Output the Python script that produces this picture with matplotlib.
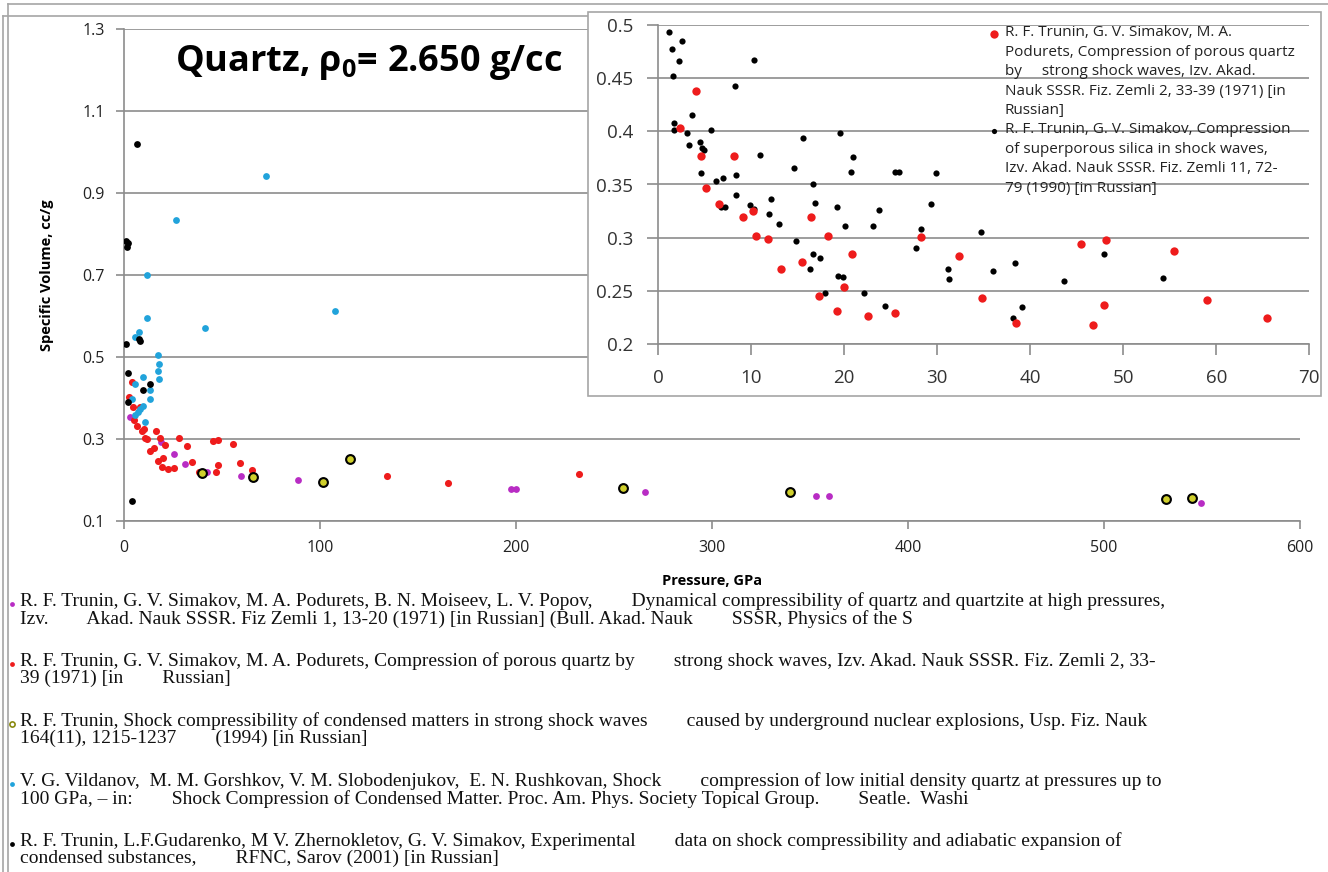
import numpy as np
import matplotlib
matplotlib.use("Agg")
import matplotlib.pyplot as plt
from matplotlib.patches import Rectangle

plt.rcParams['mathtext.fontset'] = 'custom'
plt.rcParams['mathtext.rm'] = 'Open Sans'
plt.rcParams['mathtext.bf'] = 'Open Sans:bold'

# Dynamical compressibility of quartz (Trunin et al. 1971)
dyn_p = [3.1, 18.7, 25.5, 31.1, 42.2, 59.8, 88.8, 197.4, 199.9, 265.6, 353.2, 359.9, 549.4]
dyn_v = [0.354, 0.292, 0.262, 0.239, 0.220, 0.208, 0.200, 0.178, 0.178, 0.171, 0.160, 0.160, 0.144]

# Porous quartz (Trunin, Simakov, Podurets 1971)
por_p = [2.3, 4.0, 4.6, 5.1, 6.5, 8.1, 9.1, 10.2, 10.5, 11.8, 13.2, 15.5, 16.4, 17.3,
         18.3, 19.2, 20.0, 20.8, 22.6, 25.5, 28.2, 32.3, 34.8, 38.5, 45.4, 46.7, 47.9,
         48.1, 55.4, 59.0, 65.4, 134.3, 165.2, 232.0]
por_v = [0.403, 0.438, 0.377, 0.347, 0.332, 0.377, 0.319, 0.325, 0.302, 0.299, 0.271,
         0.277, 0.319, 0.245, 0.302, 0.231, 0.254, 0.285, 0.226, 0.229, 0.301, 0.283,
         0.243, 0.220, 0.294, 0.218, 0.237, 0.2975, 0.2875, 0.241, 0.224, 0.208, 0.193,
         0.215]

# Underground nuclear explosions (Trunin 1994)
unx_p = [39.7, 65.8, 101.3, 115.3, 254.6, 339.7, 531.6, 544.7]
unx_v = [0.217, 0.206, 0.195, 0.251, 0.180, 0.169, 0.154, 0.155]

# Low initial density quartz (Vildanov et al.)
vil_p = [72.3, 26.4, 11.6, 107.6, 11.6, 41.3, 7.5, 5.7, 17.2, 18.0, 17.2, 18.0, 9.6,
         5.6, 13.4, 13.3, 3.9, 9.8, 8.4, 7.0, 5.6, 10.6]
vil_v = [0.941, 0.835, 0.700, 0.611, 0.596, 0.570, 0.562, 0.548, 0.505, 0.483, 0.465,
         0.446, 0.452, 0.434, 0.419, 0.396, 0.396, 0.379, 0.372, 0.365, 0.359, 0.341]

# Shock compressibility / adiabatic expansion (Trunin et al. 2001)
exp_p = [6.8, 1.0, 1.8, 1.4, 1.2, 7.6, 8.4, 2.2, 13.5, 9.6, 2.2, 4.2]
exp_v = [1.020, 0.783, 0.779, 0.768, 0.532, 0.543, 0.540, 0.460, 0.434, 0.419, 0.390, 0.149]

# Superporous silica (Trunin, Simakov 1990) - inset only
sup_p = [1.15, 1.5, 2.5, 2.26, 1.54, 1.68, 1.68, 3.1, 3.65, 3.26, 4.47, 4.73, 4.94, 5.62,
         4.62, 6.19, 7.0, 6.73, 7.16, 8.2, 8.34, 8.34, 9.88, 10.3, 10.3, 10.9, 11.9, 12.07,
         13.0, 14.6, 14.8, 15.6, 16.6, 16.8, 16.6, 16.3, 17.4, 17.9, 19.2, 19.5, 19.3, 19.9,
         20.1, 20.9, 20.7, 22.1, 23.1, 23.7, 24.4, 25.4, 25.85, 27.7, 28.3, 29.3, 29.9,
         31.1, 31.3, 34.7, 36.0, 38.35, 38.1, 39.1, 43.6, 47.9, 54.3]
sup_v = [0.493, 0.477, 0.485, 0.466, 0.452, 0.408, 0.401, 0.398, 0.415, 0.387, 0.390,
         0.384, 0.382, 0.401, 0.361, 0.353, 0.356, 0.329, 0.329, 0.443, 0.359, 0.340,
         0.331, 0.327, 0.467, 0.378, 0.322, 0.336, 0.313, 0.3655, 0.297, 0.394, 0.350,
         0.333, 0.285, 0.271, 0.281, 0.248, 0.329, 0.398, 0.264, 0.263, 0.311, 0.376,
         0.362, 0.248, 0.311, 0.326, 0.236, 0.362, 0.362, 0.290, 0.3085, 0.332, 0.3605,
         0.271, 0.261, 0.305, 0.269, 0.2766, 0.224, 0.235, 0.259, 0.285, 0.2625]

MAGENTA = '#b82cc4'
RED = '#ee1c1c'
OLIVE = '#cfcf2c'
BLUE = '#21a3db'
GRID = '#8c8c8c'

W, H = 1328, 872
fig = plt.figure(figsize=(W / 100, H / 100), dpi=100)


def pixel_layer(z):
    # full-figure axes in pixel units (y downwards) for frame, notes and references
    lay = fig.add_axes([0, 0, 1, 1], zorder=z)
    lay.set_xlim(0, W)
    lay.set_ylim(H, 0)
    lay.patch.set_alpha(0)
    lay.axis('off')
    return lay


bg = pixel_layer(-5)
frame_kw = dict(color='#a6a6a6', lw=1.2)
bg.plot([8, W], [4.5, 4.5], **frame_kw)
bg.plot([8, 8], [4.5, H], **frame_kw)
bg.plot([3, 588], [16, 16], **frame_kw)
bg.plot([3, 3], [16, H], **frame_kw)

# ---- main chart ----
ax = fig.add_axes([124 / W, 1 - 520.7 / H, 1176 / W, 491.4 / H])
ax.patch.set_alpha(0)
ax.scatter(dyn_p, dyn_v, s=24, color=MAGENTA, lw=0, zorder=3)
ax.scatter(por_p, por_v, s=26, color=RED, lw=0, zorder=3)
ax.scatter(unx_p, unx_v, s=40, facecolor=OLIVE, edgecolor='black', lw=1.5, zorder=4)
ax.scatter(vil_p, vil_v, s=24, color=BLUE, lw=0, zorder=3)
ax.scatter(exp_p, exp_v, s=24, color='black', lw=0, zorder=3)

ax.set_xlim(0, 600)
ax.set_ylim(0.1, 1.3)
ax.set_xticks(np.arange(0, 601, 100))
yt = np.arange(0.1, 1.31, 0.2)
ax.set_yticks(yt)
ax.set_yticklabels([f'{v:.1f}' for v in yt])
ax.grid(axis='y', color=GRID, lw=1.2, zorder=0)
for s in ['top', 'right']:
    ax.spines[s].set_visible(False)
for s in ['left', 'bottom']:
    ax.spines[s].set_color(GRID)
    ax.spines[s].set_linewidth(1.2)
ax.tick_params(direction='out', length=6, color=GRID, width=1.2,
               labelsize=11.5, labelcolor='#222222', pad=8)
for lab in ax.get_xticklabels() + ax.get_yticklabels():
    lab.set_family('Open Sans')
ax.set_xlabel('Pressure, GPa', fontsize=10.5, fontweight='bold', family='Open Sans', labelpad=13)
ax.set_ylabel('Specific Volume, cc/g', fontsize=10.5, fontweight='bold', family='Open Sans', labelpad=20)

# ---- inset frame and zoomed chart ----
fig.add_artist(Rectangle((588 / W, 1 - 396 / H), (1321 - 588) / W, (396 - 12) / H,
                         transform=fig.transFigure, facecolor='white',
                         edgecolor='#a6a6a6', lw=1.2, zorder=2))

ins = fig.add_axes([658.3 / W, 1 - 344 / H, 651 / W, 319 / H], zorder=3)
ins.patch.set_alpha(0)
ins.scatter(sup_p, sup_v, s=20, color='black', lw=0, zorder=3)
ins.scatter(por_p, por_v, s=36, color=RED, lw=0, zorder=3)
ins.set_xlim(0, 70)
ins.set_ylim(0.2, 0.5)
ins.set_xticks(np.arange(0, 71, 10))
it = [0.2, 0.25, 0.3, 0.35, 0.4, 0.45, 0.5]
ins.set_yticks(it)
ins.set_yticklabels([f'{v:g}' for v in it])
ins.grid(axis='y', color=GRID, lw=1.2, zorder=0)
for s in ['top', 'right']:
    ins.spines[s].set_visible(False)
for s in ['left', 'bottom']:
    ins.spines[s].set_color(GRID)
    ins.spines[s].set_linewidth(1.2)
ins.tick_params(direction='out', length=8, color=GRID, width=1.2,
                labelsize=13.5, labelcolor='#333333', pad=10)
for lab in ins.get_xticklabels() + ins.get_yticklabels():
    lab.set_family('Open Sans')

# title and inset notes sit above everything else
top = pixel_layer(10)
top.text(175, 63, r'Quartz, ρ$_\mathbf{0}$= 2.650 g/cc', fontsize=26, fontweight='bold',
         family='Open Sans', va='center', ha='left')

ins_refs = [
    (RED, 36, 'R. F. Trunin, G. V. Simakov, M. A.\nPodurets, Compression of porous quartz\n'
              'by     strong shock waves, Izv. Akad.\nNauk SSSR. Fiz. Zemli 2, 33-39 (1971) [in\n'
              'Russian]'),
    ('black', 14, 'R. F. Trunin, G. V. Simakov, Compression\nof superporous silica in shock waves,\n'
                  'Izv. Akad. Nauk SSSR. Fiz. Zemli 11, 72-\n79 (1990) [in Russian]'),
]
iy = [34, 131]
for (c, sz, txt), y in zip(ins_refs, iy):
    top.scatter([994], [y], s=sz, color=c, lw=0)
    top.text(1005, y - 9, txt, fontsize=11, family='Open Sans', va='top', ha='left',
             linespacing=1.42, color='#222222')

# ---- references below the chart ----
gap = ' ' * 8
refs = [
    ('dot', MAGENTA,
     f'R. F. Trunin, G. V. Simakov, M. A. Podurets, B. N. Moiseev, L. V. Popov,{gap}Dynamical compressibility of quartz and quartzite at high pressures,\n'
     f'Izv.{gap}Akad. Nauk SSSR. Fiz Zemli 1, 13-20 (1971) [in Russian] (Bull. Akad. Nauk{gap}SSSR, Physics of the S'),
    ('dot', RED,
     f'R. F. Trunin, G. V. Simakov, M. A. Podurets, Compression of porous quartz by{gap}strong shock waves, Izv. Akad. Nauk SSSR. Fiz. Zemli 2, 33-\n'
     f'39 (1971) [in{gap}Russian]'),
    ('ring', '#8a8a10',
     f'R. F. Trunin, Shock compressibility of condensed matters in strong shock waves{gap}caused by underground nuclear explosions, Usp. Fiz. Nauk\n'
     f'164(11), 1215-1237{gap}(1994) [in Russian]'),
    ('dot', BLUE,
     f'V. G. Vildanov,  M. M. Gorshkov, V. M. Slobodenjukov,  E. N. Rushkovan, Shock{gap}compression of low initial density quartz at pressures up to\n'
     f'100 GPa, \u2013 in:{gap}Shock Compression of Condensed Matter. Proc. Am. Phys. Society Topical Group.{gap}Seatle.  Washi'),
    ('dot', 'black',
     f'R. F. Trunin, L.F.Gudarenko, M V. Zhernokletov, G. V. Simakov, Experimental{gap}data on shock compressibility and adiabatic expansion of\n'
     f'condensed substances,{gap}RFNC, Sarov (2001) [in Russian]'),
]
ry = [604, 664, 724, 784, 844]
for (kind, c, txt), y in zip(refs, ry):
    if kind == 'ring':
        bg.scatter([12], [y], s=14, facecolor='white', edgecolor=c, lw=1.2)
    else:
        bg.scatter([12], [y], s=12, color=c, lw=0)
    bg.text(20, y - 12, txt, fontsize=14, family='Liberation Serif', va='top', ha='left',
            linespacing=1.0, color='#111111')

fig.savefig('out.png', dpi=100)
